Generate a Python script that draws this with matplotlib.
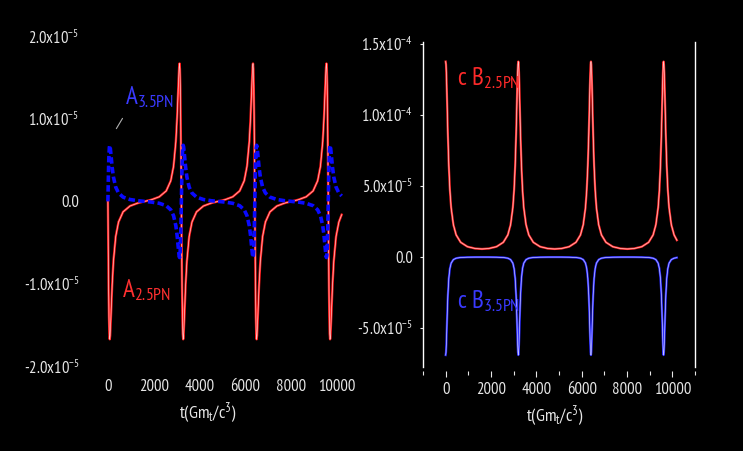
import numpy as np
import matplotlib
matplotlib.use('Agg')
import matplotlib.pyplot as plt
from matplotlib.ticker import FixedLocator

# ---------------- data (values in units of 1e-5) ----------------
t = [0, 15.0, 30.2, 45.9, 62.2, 79.4, 97.7, 138.4, 185.7, 240.9, 340.6, 462.6, 661.0, 962.4, 1308.6, 1602.5,
     1896.4, 2242.6, 2544.0, 2742.4, 2864.4, 2964.1, 3019.3, 3066.6, 3107.3, 3125.6, 3142.8, 3159.1, 3174.8, 3190.0, 3205,
     3220, 3235.2, 3250.9, 3267.2, 3284.4, 3302.7, 3343.4, 3390.7, 3445.9, 3545.6, 3667.6, 3866.0, 4167.4, 4513.6, 4807.5,
     5101.4, 5447.6, 5749.0, 5947.4, 6069.4, 6169.1, 6224.3, 6271.6, 6312.3, 6330.6, 6347.8, 6364.1, 6379.8, 6395.0, 6410,
     6425, 6440.2, 6455.9, 6472.2, 6489.4, 6507.7, 6548.4, 6595.7, 6650.9, 6750.6, 6872.6, 7071.0, 7372.4, 7718.6, 8012.5,
     8306.4, 8652.6, 8954.0, 9152.4, 9274.4, 9374.1, 9429.3, 9476.6, 9517.3, 9535.6, 9552.8, 9569.1, 9584.8, 9600.0, 9615,
     9630, 9645.2, 9660.9, 9677.2, 9694.4, 9712.7, 9753.4, 9800.7, 9855.9, 9955.6, 10077.6, 10200]

A_25PN = [0, -0.561, -1.046, -1.401, -1.605, -1.671, -1.626, -1.353, -1.015, -0.725, -0.425, -0.250, -0.127, -0.056, -0.020, 0.0,
          0.020, 0.056, 0.127, 0.250, 0.425, 0.725, 1.015, 1.353, 1.626, 1.671, 1.605, 1.401, 1.046, 0.561, 0.0,
          -0.561, -1.046, -1.401, -1.605, -1.671, -1.626, -1.353, -1.015, -0.725, -0.425, -0.250, -0.127, -0.056, -0.020, 0.0,
          0.020, 0.056, 0.127, 0.250, 0.425, 0.725, 1.015, 1.353, 1.626, 1.671, 1.605, 1.401, 1.046, 0.561, 0.0,
          -0.561, -1.046, -1.401, -1.605, -1.671, -1.626, -1.353, -1.015, -0.725, -0.425, -0.250, -0.127, -0.056, -0.020, 0.0,
          0.020, 0.056, 0.127, 0.250, 0.425, 0.725, 1.015, 1.353, 1.626, 1.671, 1.605, 1.401, 1.046, 0.561, 0.0,
          -0.561, -1.046, -1.401, -1.605, -1.671, -1.626, -1.353, -1.015, -0.725, -0.425, -0.250, -0.161]

A_35PN = [0, 0.228, 0.426, 0.570, 0.653, 0.680, 0.662, 0.551, 0.413, 0.295, 0.173, 0.102, 0.052, 0.023, 0.008, 0.0,
          -0.008, -0.023, -0.052, -0.102, -0.173, -0.295, -0.413, -0.551, -0.662, -0.680, -0.653, -0.570, -0.426, -0.228, 0.0,
          0.228, 0.426, 0.570, 0.653, 0.680, 0.662, 0.551, 0.413, 0.295, 0.173, 0.102, 0.052, 0.023, 0.008, 0.0,
          -0.008, -0.023, -0.052, -0.102, -0.173, -0.295, -0.413, -0.551, -0.662, -0.680, -0.653, -0.570, -0.426, -0.228, 0.0,
          0.228, 0.426, 0.570, 0.653, 0.680, 0.662, 0.551, 0.413, 0.295, 0.173, 0.102, 0.052, 0.023, 0.008, 0.0,
          -0.008, -0.023, -0.052, -0.102, -0.173, -0.295, -0.413, -0.551, -0.662, -0.680, -0.653, -0.570, -0.426, -0.228, 0.0,
          0.228, 0.426, 0.570, 0.653, 0.680, 0.662, 0.551, 0.413, 0.295, 0.173, 0.102, 0.066]

cB_25PN = [13.77, 13.57, 12.98, 12.09, 10.99, 9.80, 8.61, 6.44, 4.73, 3.48, 2.27, 1.55, 1.03, 0.72, 0.59, 0.56,
           0.59, 0.72, 1.03, 1.55, 2.27, 3.48, 4.73, 6.44, 8.61, 9.80, 10.99, 12.09, 12.98, 13.57, 13.77,
           13.57, 12.98, 12.09, 10.99, 9.80, 8.61, 6.44, 4.73, 3.48, 2.27, 1.55, 1.03, 0.72, 0.59, 0.56,
           0.59, 0.72, 1.03, 1.55, 2.27, 3.48, 4.73, 6.44, 8.61, 9.80, 10.99, 12.09, 12.98, 13.57, 13.77,
           13.57, 12.98, 12.09, 10.99, 9.80, 8.61, 6.44, 4.73, 3.48, 2.27, 1.55, 1.03, 0.72, 0.59, 0.56,
           0.59, 0.72, 1.03, 1.55, 2.27, 3.48, 4.73, 6.44, 8.61, 9.80, 10.99, 12.09, 12.98, 13.57, 13.77,
           13.57, 12.98, 12.09, 10.99, 9.80, 8.61, 6.44, 4.73, 3.48, 2.27, 1.55, 1.18]

cB_35PN = [-6.92, -6.72, -6.15, -5.33, -4.41, -3.51, -2.70, -1.51, -0.82, -0.44, -0.19, -0.09, -0.04, -0.02, -0.013, -0.012,
           -0.013, -0.02, -0.04, -0.09, -0.19, -0.44, -0.82, -1.51, -2.70, -3.51, -4.41, -5.33, -6.15, -6.72, -6.92,
           -6.72, -6.15, -5.33, -4.41, -3.51, -2.70, -1.51, -0.82, -0.44, -0.19, -0.09, -0.04, -0.02, -0.013, -0.012,
           -0.013, -0.02, -0.04, -0.09, -0.19, -0.44, -0.82, -1.51, -2.70, -3.51, -4.41, -5.33, -6.15, -6.72, -6.92,
           -6.72, -6.15, -5.33, -4.41, -3.51, -2.70, -1.51, -0.82, -0.44, -0.19, -0.09, -0.04, -0.02, -0.013, -0.012,
           -0.013, -0.02, -0.04, -0.09, -0.19, -0.44, -0.82, -1.51, -2.70, -3.51, -4.41, -5.33, -6.15, -6.72, -6.92,
           -6.72, -6.15, -5.33, -4.41, -3.51, -2.70, -1.51, -0.82, -0.44, -0.19, -0.09, -0.05]

UNIT = 1e-5

x_ticks = [0, 2000, 4000, 6000, 8000, 10000]
x_ticklabels = ['0', '2000', '4000', '6000', '8000', '10000']
left_yticks = [-2e-5, -1e-5, 0, 1e-5, 2e-5]
left_yticklabels = ['-2.0x10$^{-5}$', '-1.0x10$^{-5}$', '0.0', '1.0x10$^{-5}$', '2.0x10$^{-5}$']
right_yticks = [-5e-5, 0, 5e-5, 1e-4, 1.5e-4]
right_yticklabels = ['-5.0x10$^{-5}$', '0.0', '5.0x10$^{-5}$', '1.0x10$^{-4}$', '1.5x10$^{-4}$']
xlabel = 't(Gm$_{t}$/c$^{3}$)'

# ---------------- style ----------------
FONT = ['PT Sans Narrow', 'DejaVu Sans']
plt.rcParams['font.family'] = FONT
plt.rcParams['mathtext.fontset'] = 'custom'
plt.rcParams['mathtext.rm'] = 'PT Sans Narrow'
plt.rcParams['mathtext.it'] = 'PT Sans Narrow'
plt.rcParams['mathtext.bf'] = 'PT Sans Narrow'
plt.rcParams['mathtext.default'] = 'rm'

TXT = '#e6e6e6'
W, H = 743, 451
fig = plt.figure(figsize=(W / 100, H / 100), dpi=100, facecolor='black')

tt = np.array(t)
a25 = np.array(A_25PN) * UNIT
a35 = np.array(A_35PN) * UNIT
b25 = np.array(cB_25PN) * UNIT
b35 = np.array(cB_35PN) * UNIT

# ---------------- left panel ----------------
axL = fig.add_axes([85 / W, 1 - 374.7 / H, 275 / W, 346.6 / H], facecolor='black')
axL.plot(tt, a25, color='#ff1a1a', lw=1.7, solid_joinstyle='round', zorder=2)
axL.plot(tt, a25, color='#ffc4c4', lw=0.5, zorder=3)
axL.plot(tt, a35, color='#0a0aff', lw=2.6, dashes=(1.8, 0.9), zorder=4)
axL.set_xlim(-1000, 11000)
axL.set_ylim(-2.1e-5, 2.1e-5)
for s in axL.spines.values():
    s.set_visible(False)
axL.xaxis.set_major_locator(FixedLocator(x_ticks))
axL.set_xticklabels(x_ticklabels)
axL.yaxis.set_major_locator(FixedLocator(left_yticks))
axL.set_yticklabels(left_yticklabels)
axL.tick_params(axis='both', length=0, colors=TXT, labelsize=12)
axL.tick_params(axis='x', pad=3)
axL.tick_params(axis='y', pad=4)

axL.text(742, 1.18e-5, 'A$_{3.5PN}$', color='#3a3aff', fontsize=18, ha='left', va='baseline')
axL.text(611, -1.16e-5, 'A$_{2.5PN}$', color='#ff3030', fontsize=18, ha='left', va='baseline')
axL.annotate('', xy=(699, 1.035e-5), xytext=(306, 0.853e-5),
             arrowprops=dict(arrowstyle='-', color='#b0b0b0', lw=0.8))

fig.text(208 / W, 1 - 413 / H, xlabel, color=TXT, fontsize=13, ha='center', va='center')

# ---------------- right panel ----------------
axR = fig.add_axes([423 / W, 1 - 367 / H, 272 / W, 325 / H], facecolor='black')
axR.plot(tt, b25, color='#ff2a2a', lw=1.6, zorder=2)
axR.plot(tt, b25, color='#ffc8c8', lw=0.5, zorder=3)
axR.plot(tt, b35, color='#2a2aff', lw=1.6, zorder=2)
axR.plot(tt, b35, color='#c4c4ff', lw=0.5, zorder=3)
axR.set_xlim(-1000, 11000)
axR.set_ylim(-7.76e-5, 15.15e-5)
axR.spines['top'].set_visible(False)
axR.spines['bottom'].set_color('none')
axR.spines['bottom'].set_position(('outward', 3))
for side in ('left', 'right'):
    axR.spines[side].set_color('white')
    axR.spines[side].set_linewidth(1.0)
axR.xaxis.set_major_locator(FixedLocator(x_ticks))
axR.xaxis.set_minor_locator(FixedLocator([-1000, 1000, 3000, 5000, 7000, 9000, 11000]))
axR.set_xticklabels(x_ticklabels)
axR.yaxis.set_major_locator(FixedLocator(right_yticks))
axR.set_yticklabels(right_yticklabels)
axR.tick_params(axis='x', which='major', length=4, width=0.8, direction='out', colors=TXT, labelsize=12, pad=4)
axR.tick_params(axis='x', which='minor', length=3, width=0.8, direction='out', colors=TXT)
axR.tick_params(axis='y', which='major', length=2, width=0.8, direction='out', colors=TXT, labelsize=12, pad=5)

axR.text(485, 12.12e-5, 'c B$_{2.5PN}$', color='#ff2a2a', fontsize=18, ha='left', va='baseline')
axR.text(485, -3.60e-5, 'c B$_{3.5PN}$', color='#3a3aff', fontsize=18, ha='left', va='baseline')

fig.text(555 / W, 1 - 416 / H, xlabel, color=TXT, fontsize=13, ha='center', va='center')

fig.savefig('out.png', dpi=100, facecolor='black')
